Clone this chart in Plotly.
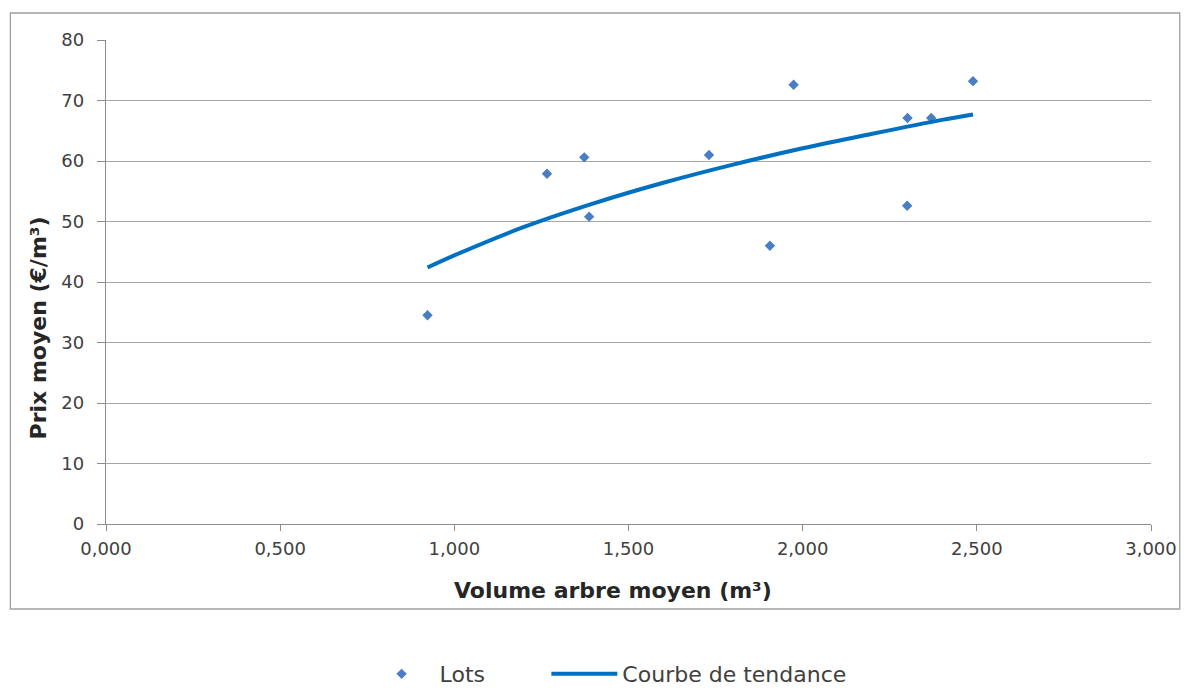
import plotly.graph_objects as go

# Lots : volume arbre moyen (m3) / prix moyen (EUR/m3)
lots_volume = [0.923, 1.266, 1.373, 1.387, 1.731, 1.906, 1.974, 2.301, 2.300, 2.369, 2.489]
lots_prix = [34.5, 57.9, 60.6, 50.8, 61.0, 46.0, 72.6, 67.1, 52.6, 67.1, 73.2]

# courbe de tendance
tendance_volume = [0.923, 1.0, 1.2, 1.4, 1.6, 1.8, 2.0, 2.2, 2.4, 2.489]
tendance_prix = [42.4, 44.4, 49.1, 53.0, 56.4, 59.4, 62.1, 64.5, 66.8, 67.7]

x_ticks = [0.0, 0.5, 1.0, 1.5, 2.0, 2.5, 3.0]
y_ticks = [0, 10, 20, 30, 40, 50, 60, 70, 80]

GRID = "#a6a6a6"
AXIS = "#8c8c8c"
FONT = "DejaVu Sans, sans-serif"
TXT = "#404040"

fig = go.Figure()

fig.add_trace(go.Scatter(
    x=lots_volume,
    y=lots_prix,
    mode="markers",
    name="Lots",
    marker=dict(symbol="diamond", size=8, color="#4a7ec4"),
    legend="legend",
))

fig.add_trace(go.Scatter(
    x=tendance_volume,
    y=tendance_prix,
    mode="lines",
    name="Courbe de tendance",
    line=dict(color="#0070c0", width=4, shape="spline"),
    legend="legend2",
))

# cadre du graphique
fig.add_shape(
    type="rect", xref="paper", yref="paper",
    x0=-0.0915, x1=1.0275, y0=-0.1756, y1=1.0558,
    line=dict(color="#a0a0a0", width=1.3),
    layer="below",
)

# titres des axes (décalés comme dans Excel)
fig.add_annotation(
    text="<b>Prix moyen (€/m³)</b>",
    xref="paper", yref="paper", x=-0.0646, y=0.405,
    xanchor="center", yanchor="middle",
    textangle=-90, showarrow=False,
    font=dict(size=22, color="#262626"),
)
fig.add_annotation(
    text="<b>Volume arbre moyen (m³)</b>",
    xref="paper", yref="paper", x=0.4855, y=-0.1364,
    xanchor="center", yanchor="middle",
    showarrow=False,
    font=dict(size=22, color="#262626"),
)

legend_style = dict(
    orientation="h",
    xanchor="left",
    yref="container",
    y=0.0205,
    yanchor="middle",
    font=dict(size=22, color=TXT),
    itemwidth=66,
    bgcolor="rgba(0,0,0,0)",
)

# la page a une marge de 8 px autour du graphique
fig.update_layout(
    width=1181,
    height=680,
    margin=dict(l=98, r=29, t=32, b=164),
    paper_bgcolor="white",
    plot_bgcolor="white",
    separators=", ",
    font=dict(family=FONT, size=18, color=TXT),
    showlegend=True,
    legend=dict(legend_style, x=0.2465),
    legend2=dict(legend_style, x=0.4214),
)

fig.update_xaxes(
    range=[0, 3],
    tickvals=x_ticks,
    tickformat=".3f",
    showgrid=False,
    zeroline=False,
    showline=True,
    linecolor=AXIS,
    linewidth=1.3,
    ticks="outside",
    ticklen=6,
    tickcolor=AXIS,
    ticklabelstandoff=2,
    tickfont=dict(size=18, color=TXT),
)

fig.update_yaxes(
    range=[0, 80],
    tickvals=y_ticks,
    showgrid=True,
    gridcolor=GRID,
    gridwidth=1.3,
    zeroline=False,
    showline=True,
    linecolor=AXIS,
    linewidth=1.3,
    ticks="outside",
    ticklen=8,
    tickcolor=AXIS,
    ticklabelstandoff=9,
    tickfont=dict(size=18, color=TXT),
)

fig.write_html("out.html")
